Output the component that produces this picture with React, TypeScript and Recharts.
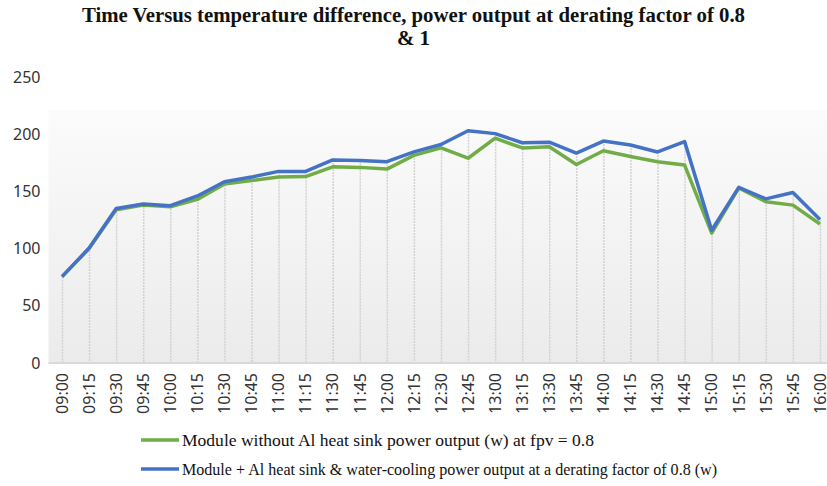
import React from "react";
import { Bar, CartesianGrid, ComposedChart, Legend, Line, XAxis, YAxis } from "recharts";

const times = [
  "09:00", "09:15", "09:30", "09:45", "10:00", "10:15", "10:30", "10:45", "11:00", "11:15",
  "11:30", "11:45", "12:00", "12:15", "12:30", "12:45", "13:00", "13:15", "13:30", "13:45",
  "14:00", "14:15", "14:30", "14:45", "15:00", "15:15", "15:30", "15:45", "16:00",
];

// Module without Al heat sink, fpv = 0.8
const withoutSink = [
  75.5, 100, 134, 138, 136.5, 143, 156.5, 159.5, 162.5, 163,
  171.5, 171, 169.5, 181.5, 188, 179, 196.5, 188, 189, 173.5,
  185.5, 180.5, 176, 173, 113.5, 153, 141, 138, 121.5,
];

// Module + Al heat sink & water-cooling, derating 0.8
const withCooling = [
  75.5, 100.5, 135, 139, 137.5, 146, 158.5, 162.5, 167.5, 167.5,
  177.5, 177, 176, 184.5, 191, 203, 200.5, 192.5, 193, 183.5,
  194, 190.5, 184.5, 193.5, 116, 153.5, 143.5, 149, 125.5,
];

const yTicks = [0, 50, 100, 150, 200, 250];

const seriesNames = [
  "Module without Al heat sink power output (w) at  fpv = 0.8",
  "Module + Al heat sink & water-cooling power output at a derating factor of 0.8 (w)",
];

const GREEN = "#70ad47";
const BLUE = "#4472c4";

const data = times.map((t, i) => ({
  time: t,
  green: withoutSink[i],
  blue: withCooling[i],
  drop: Math.max(withoutSink[i], withCooling[i]),
}));

function DropLine(props: any) {
  const { x, y, width, height } = props;
  if (x == null || y == null) return null;
  const cx = x + width / 2;
  return (
    <line x1={cx} x2={cx} y1={y} y2={y + height} stroke="#d2d2d2" strokeWidth={1.5} strokeDasharray="2 1" />
  );
}

function TimeTick({ x, y, payload }: any) {
  return (
    <text
      transform={`translate(${x},${y + 2}) rotate(-90)`}
      textAnchor="end"
      dy="0.36em"
      fontSize={16}
      fontFamily="'Noto Sans', sans-serif"
      fill="#333"
    >
      {payload.value}
    </text>
  );
}

function LegendBox() {
  const rows = [
    { color: GREEN, label: seriesNames[0], len: 412, cy: 17 },
    { color: BLUE, label: seriesNames[1], len: 535, cy: 46 },
  ];
  return (
    <svg width={827} height={60} style={{ display: "block" }}>
      {rows.map((r) => (
        <g key={r.label}>
          <line x1={141} x2={179} y1={r.cy} y2={r.cy} stroke={r.color} strokeWidth={3.5} />
          <text
            x={182}
            y={r.cy}
            dy="0.35em"
            fontSize={17}
            fontFamily="'Liberation Serif', 'Times New Roman', serif"
            fill="#111"
            textLength={r.len}
            lengthAdjust="spacingAndGlyphs"
          >
            {r.label}
          </text>
        </g>
      ))}
    </svg>
  );
}

export default function App() {
  return (
    <div
      style={{
        position: "fixed",
        left: 0,
        top: 0,
        width: 827,
        height: 486,
        overflow: "hidden",
        background: "#fff",
      }}
    >
      <svg width={827} height={60} style={{ position: "absolute", left: 0, top: 0, zIndex: 1 }}>
        <text
          x={413.5}
          y={22}
          textAnchor="middle"
          fontSize={21}
          fontWeight="bold"
          fontFamily="'Liberation Serif', 'Times New Roman', serif"
          fill="#111"
          textLength={663}
          lengthAdjust="spacingAndGlyphs"
        >
          Time Versus temperature difference, power output at derating factor of 0.8
        </text>
        <text
          x={413.5}
          y={45}
          textAnchor="middle"
          fontSize={21}
          fontWeight="bold"
          fontFamily="'Liberation Serif', 'Times New Roman', serif"
          fill="#111"
        >
          &amp; 1
        </text>
      </svg>
      <ComposedChart width={840} height={486} data={data} margin={{ top: 77, right: 6.5, bottom: 3, left: 0 }}>
        <defs>
          <linearGradient id="plotBg" x1="0" y1="0" x2="0" y2="1">
            <stop offset="0" stopColor="#ffffff" />
            <stop offset="0.115" stopColor="#ffffff" />
            <stop offset="0.117" stopColor="#fbfbfb" />
            <stop offset="1" stopColor="#ebebeb" />
          </linearGradient>
        </defs>
        <CartesianGrid horizontal={false} vertical={false} fill="url(#plotBg)" />
        <XAxis
          dataKey="time"
          interval={0}
          height={60}
          tick={<TimeTick />}
          tickLine={false}
          axisLine={{ stroke: "#d9d9d9", strokeWidth: 2 }}
        />
        <YAxis
          width={48.5}
          domain={[0, 250]}
          ticks={yTicks}
          axisLine={false}
          tickLine={false}
          tick={{ fontSize: 16, fontFamily: "'Noto Sans', sans-serif", fill: "#333" }}
        />
        <Legend
          verticalAlign="bottom"
          wrapperStyle={{ left: 0, width: 827, height: 60 }}
          content={() => <LegendBox />}
        />
        <Bar dataKey="drop" barSize={2} shape={<DropLine />} isAnimationActive={false} legendType="none" />
        <Line
          type="linear"
          dataKey="green"
          stroke={GREEN}
          strokeWidth={3.5}
          dot={false}
          activeDot={false}
          strokeLinejoin="round"
          isAnimationActive={false}
        />
        <Line
          type="linear"
          dataKey="blue"
          stroke={BLUE}
          strokeWidth={3.5}
          dot={false}
          activeDot={false}
          strokeLinejoin="round"
          isAnimationActive={false}
        />
      </ComposedChart>
    </div>
  );
}
